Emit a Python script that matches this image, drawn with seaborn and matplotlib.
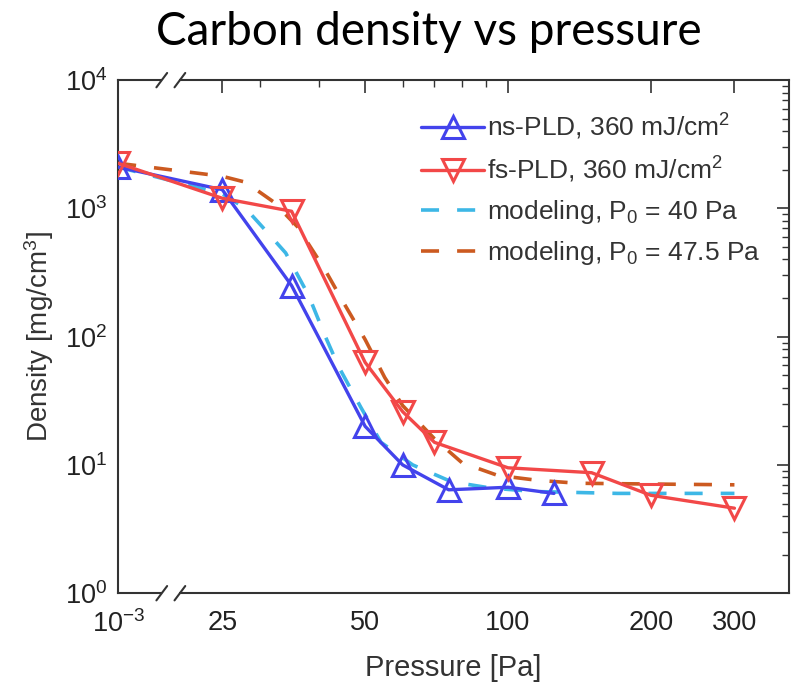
import numpy as np
import matplotlib
matplotlib.use("Agg")
import matplotlib.pyplot as plt
import seaborn as sns
from matplotlib.ticker import FixedLocator, NullFormatter, LogLocator

# measured data
ns_p = [1e-3, 25, 35, 50, 60, 75, 100, 125]
ns_d = [2100, 1400, 250, 20, 10, 6.4, 6.7, 6.0]

fs_p = [1e-3, 25, 35, 50, 60, 70, 100, 150, 200, 300]
fs_d = [2250, 1200, 950, 63, 26, 15, 9.5, 8.7, 5.8, 4.6]

# model curves
m40_p = [1e-3, 25, 28, 31, 34, 38, 41, 44, 49, 54, 63, 76, 92, 115, 170, 300]
m40_d = [2100, 1300, 1000, 660, 450, 210, 105, 58, 28, 15, 10, 7.4, 6.6, 6.2, 6.0, 6.0]

m47_p = [1e-3, 25, 28, 32, 36, 41, 45, 50, 55, 60, 70, 80, 95, 115, 140, 200, 300]
m47_d = [2250, 1780, 1600, 1130, 720, 340, 185, 95, 48, 29, 16, 10.4, 8.3, 7.6, 7.2, 7.1, 7.0]

xtick_vals = [1e-3, 25, 50, 100, 200, 300]
xtick_labels = ["10$^{-3}$", "25", "50", "100", "200", "300"]
xminor_vals = [30, 40, 60, 70, 80, 90]

sns.set_style("white")
plt.rcParams["font.family"] = ["Liberation Sans", "DejaVu Sans"]
plt.rcParams["mathtext.default"] = "regular"

# broken x axis: 1e-3 sits at the left edge, the rest is log scale
B = 15.1
LB = np.log10(B)
SQ = 1e-4


def fwd(x):
    x = np.asarray(x, dtype=float)
    lx = np.log10(np.clip(x, 1e-12, None))
    return np.where(x >= B, lx, LB + (lx - LB) * SQ)


def inv(y):
    y = np.asarray(y, dtype=float)
    e = np.clip(LB + (y - LB) / SQ, -300, 300)
    return np.where(y >= LB, 10 ** np.clip(y, -300, 300), 10 ** e)


fig = plt.figure(figsize=(7.93, 6.85), dpi=100)
ax = fig.add_axes([0.149, 0.134, 0.846, 0.749])
ax.set_xscale("function", functions=(fwd, inv))
ax.set_yscale("log")

blue = "#4343ec"
red = "#f24848"
cyan = "#3db7e6"
brown = "#cc5a20"
dash = (0, (5, 5))

sns.lineplot(x=m40_p, y=m40_d, ax=ax, color=cyan, linewidth=2.6,
             linestyle=dash, label="modeling, P$_0$ = 40 Pa", zorder=2)
sns.lineplot(x=m47_p, y=m47_d, ax=ax, color=brown, linewidth=2.6,
             linestyle=dash, label="modeling, P$_0$ = 47.5 Pa", zorder=2)
sns.lineplot(x=ns_p, y=ns_d, ax=ax, color=blue, linewidth=2.4, marker="^",
             markersize=16, markerfacecolor="none", markeredgecolor=blue,
             markeredgewidth=2.2, label="ns-PLD, 360 mJ/cm$^2$", zorder=3)
sns.lineplot(x=fs_p, y=fs_d, ax=ax, color=red, linewidth=2.4, marker="v",
             markersize=16, markerfacecolor="none", markeredgecolor=red,
             markeredgewidth=2.2, label="fs-PLD, 360 mJ/cm$^2$", zorder=3)

ax.set_xlim(1e-3, 391)
ax.set_ylim(1, 1e4)

ax.xaxis.set_major_locator(FixedLocator(xtick_vals))
ax.set_xticklabels(xtick_labels)
ax.xaxis.set_minor_locator(FixedLocator(xminor_vals))
ax.xaxis.set_minor_formatter(NullFormatter())
ax.yaxis.set_major_locator(LogLocator(base=10, numticks=10))
ax.yaxis.set_minor_locator(LogLocator(base=10, subs=np.arange(2, 10), numticks=10))
ax.yaxis.set_minor_formatter(NullFormatter())

tick_col = "#333333"
ax.tick_params(which="both", direction="in", top=True, right=True,
               colors=tick_col, labelcolor="#222222")
ax.tick_params(which="major", length=9, width=1.2, labelsize=19.5)
ax.tick_params(axis="x", which="major", pad=12)
ax.tick_params(axis="y", which="major", pad=8)
ax.tick_params(which="minor", length=5, width=1.0)
for s in ax.spines.values():
    s.set_color(tick_col)
    s.set_linewidth(1.5)

ax.set_xlabel("Pressure [Pa]", fontsize=21, color="#333333", labelpad=12)
ax.set_ylabel("Density [mg/cm$^3$]", fontsize=20, color="#333333", labelpad=6)

# axis break marks
for yb in (0, 1):
    ax.add_patch(plt.Rectangle((0.066, yb - 0.01), 0.025, 0.02, transform=ax.transAxes,
                               facecolor="white", edgecolor="none", clip_on=False, zorder=5))
    for xb in (0.065, 0.092):
        ax.plot([xb - 0.008, xb + 0.008], [yb - 0.014, yb + 0.014], transform=ax.transAxes,
                color=tick_col, linewidth=1.5, clip_on=False, zorder=6)

handles, labels = ax.get_legend_handles_labels()
order = [2, 3, 0, 1]
leg = ax.legend([handles[i] for i in order], [labels[i] for i in order],
                loc="upper right", bbox_to_anchor=(0.985, 0.975), frameon=False,
                fontsize=19, handlelength=2.4, handletextpad=0.1, labelspacing=0.5,
                borderaxespad=0.3)
for t in leg.get_texts():
    t.set_color("#333333")

fig.text(0.541, 0.934, "Carbon density vs pressure", ha="center", va="baseline",
         fontsize=33, family=["Lato", "DejaVu Sans"], color="black")

fig.savefig("out.png", dpi=100)
